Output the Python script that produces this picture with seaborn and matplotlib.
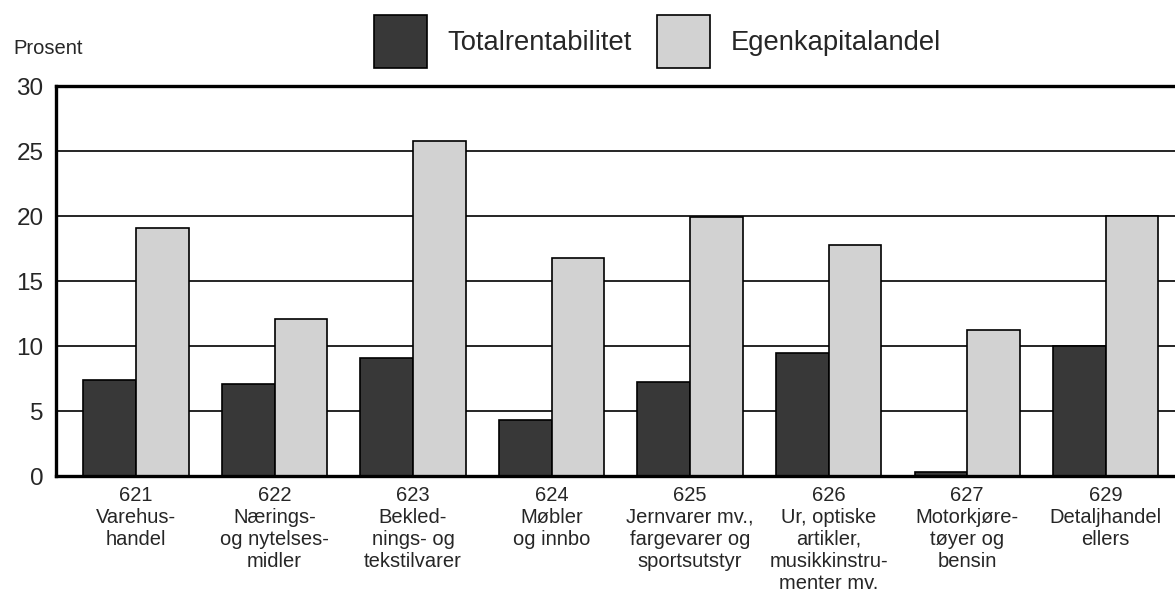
import pandas as pd
import matplotlib
matplotlib.use("Agg")
import matplotlib.pyplot as plt
import matplotlib.patches as mpatches
import seaborn as sns

# Data
kategorier = [
    "621\nVarehus-\nhandel",
    "622\nNærings-\nog nytelses-\nmidler",
    "623\nBekled-\nnings- og\ntekstilvarer",
    "624\nMøbler\nog innbo",
    "625\nJernvarer mv.,\nfargevarer og\nsportsutstyr",
    "626\nUr, optiske\nartikler,\nmusikkinstru-\nmenter mv.",
    "627\nMotorkjøre-\ntøyer og\nbensin",
    "629\nDetaljhandel\nellers",
]
totalrentabilitet = [7.4, 7.1, 9.1, 4.3, 7.2, 9.5, 0.3, 10.0]
egenkapitalandel = [19.1, 12.1, 25.8, 16.8, 19.9, 17.8, 11.2, 20.0]
serier = ["Totalrentabilitet", "Egenkapitalandel"]
farger = ["#383838", "#d2d2d2"]

df = pd.DataFrame({
    "kategori": kategorier * 2,
    "verdi": totalrentabilitet + egenkapitalandel,
    "serie": [serier[0]] * len(kategorier) + [serier[1]] * len(kategorier),
})

sns.set_style("white")
plt.rcParams["font.family"] = ["Liberation Sans", "DejaVu Sans"]

fig = plt.figure(figsize=(11.75, 5.96), dpi=100)
ax = fig.add_axes([0.0477, 0.2013, 0.9523, 0.6544])

sns.barplot(data=df, x="kategori", y="verdi", hue="serie", palette=farger,
            width=0.76, edgecolor="black", linewidth=1.2, saturation=1,
            legend=False, ax=ax)

ax.set_ylim(0, 30)
ax.set_xlim(-0.577, 7.5)
ax.set_yticks([0, 5, 10, 15, 20, 25, 30])
ax.yaxis.grid(True, color="black", linewidth=1.2)
ax.set_axisbelow(True)
ax.set_xlabel("")
ax.set_ylabel("")

for side in ["left", "top", "bottom"]:
    ax.spines[side].set_visible(True)
    ax.spines[side].set_color("black")
    ax.spines[side].set_linewidth(2.4)
ax.spines["right"].set_visible(False)

ax.tick_params(axis="y", length=0, pad=9, labelsize=17.5)
ax.tick_params(axis="x", length=0, pad=7, labelsize=14.5)
for t in ax.get_xticklabels():
    t.set_linespacing(1.2)

fig.text(0.011, 0.918, "Prosent", fontsize=14.5, va="center", ha="left")

handles = [mpatches.Patch(facecolor=f, edgecolor="black", linewidth=1.2, label=s)
           for f, s in zip(farger, serier)]
fig.legend(handles=handles, loc="center", bbox_to_anchor=(0.5595, 0.93), ncol=2,
           frameon=False, fontsize=19.7, handlelength=1.95, handleheight=2.6,
           handletextpad=0.75, columnspacing=0.9)

fig.savefig("out.png", dpi=100)
